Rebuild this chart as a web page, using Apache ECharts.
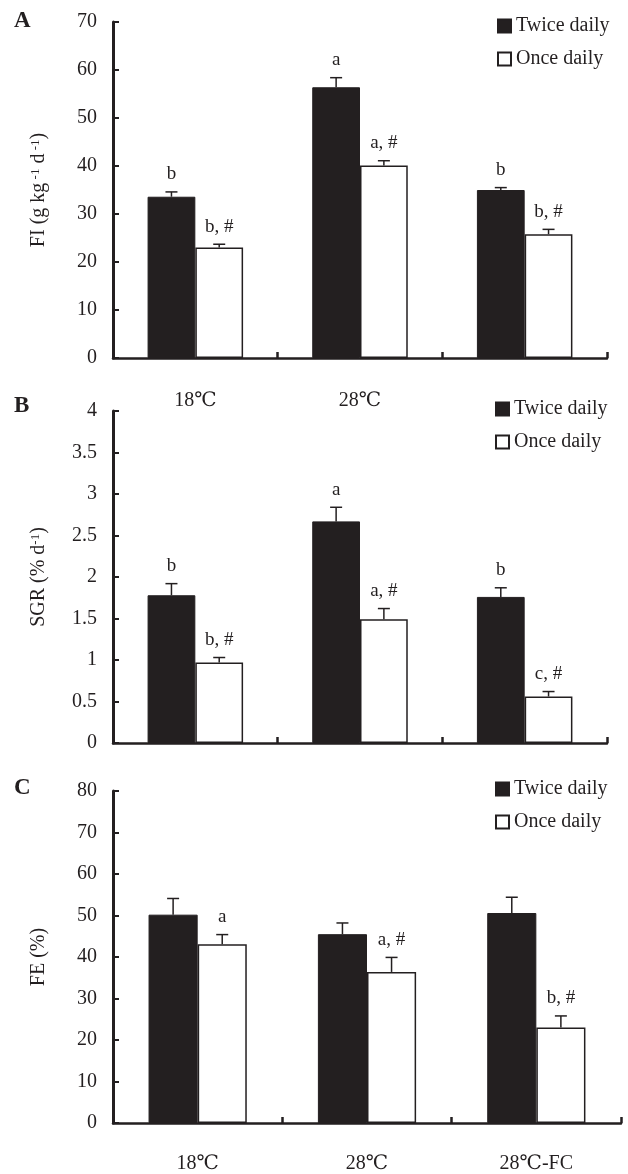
<!DOCTYPE html>
<html>
<head>
<meta charset="utf-8">
<script src="https://cdn.jsdelivr.net/npm/echarts@6/dist/echarts.min.js"></script>
<style>html,body{margin:0;padding:0;background:#fff;}#c{width:628px;height:1174px;}</style>
</head>
<body>
<div id="c"></div>
<script>
// ---- data ----
const categories = ['18℃', '28℃', '28℃-FC'];
const seriesNames = ['Twice daily', 'Once daily'];

const fiTwice = [33.6, 56.4, 35.0];
const fiTwiceSE = [1.0, 2.0, 0.5];
const fiOnce = [23.0, 40.1, 25.8];
const fiOnceSE = [0.7, 1.0, 1.0];
const fiTwiceLabels = ['b', 'a', 'b'];
const fiOnceLabels = ['b, #', 'a, #', 'b, #'];

const sgrTwice = [1.78, 2.67, 1.76];
const sgrTwiceSE = [0.14, 0.17, 0.11];
const sgrOnce = [0.97, 1.49, 0.56];
const sgrOnceSE = [0.06, 0.13, 0.06];
const sgrTwiceLabels = ['b', 'a', 'b'];
const sgrOnceLabels = ['b, #', 'a, #', 'c, #'];

const feTwice = [50.2, 45.5, 50.6];
const feTwiceSE = [3.9, 2.7, 3.8];
const feOnce = [43.1, 36.4, 23.0];
const feOnceSE = [2.3, 3.5, 2.8];
const feTwiceLabels = ['', '', ''];
const feOnceLabels = ['a', 'a, #', 'b, #'];

const fiTicks = {min: 0, max: 70, interval: 10};
const sgrTicks = {min: 0, max: 4, interval: 0.5};
const feTicks = {min: 0, max: 80, interval: 10};

// ---- style ----
const INK = '#231f20';
const FONT = '"Liberation Serif", "DejaVu Serif", "Times New Roman", "Noto Sans CJK SC", serif';
const CAT_GAP = 0.42;

const panels = [
  {twice: fiTwice, twiceSE: fiTwiceSE, once: fiOnce, onceSE: fiOnceSE, tl: fiTwiceLabels, ol: fiOnceLabels,
   ticks: fiTicks, name: 'FI (g kg{sup| -1} d{sup| -1})', showCats: [true, true, false],
   grid: {left: 113, top: 22, width: 494, height: 336}, legendTop: 11, legendLeft: 492, letter: 'A', letterTop: 10, catMargin: 33},
  {twice: sgrTwice, twiceSE: sgrTwiceSE, once: sgrOnce, onceSE: sgrOnceSE, tl: sgrTwiceLabels, ol: sgrOnceLabels,
   ticks: sgrTicks, name: 'SGR (% d{sup|-1})', showCats: [false, false, false],
   grid: {left: 113, top: 411, width: 494, height: 332}, legendTop: 394, legendLeft: 490, letter: 'B', letterTop: 395, catMargin: 32},
  {twice: feTwice, twiceSE: feTwiceSE, once: feOnce, onceSE: feOnceSE, tl: feTwiceLabels, ol: feOnceLabels,
   ticks: feTicks, name: 'FE (%)', showCats: [true, true, true],
   grid: {left: 113, top: 791, width: 508, height: 333}, legendTop: 774, legendLeft: 490, letter: 'C', letterTop: 777, catMargin: 31}
];

const option = {
  backgroundColor: '#fff',
  animation: false,
  grid: [], xAxis: [], yAxis: [], series: [], legend: [], graphic: []
};

panels.forEach((p, i) => {
  option.grid.push(Object.assign({containLabel: false}, p.grid));
  option.xAxis.push({
    type: 'category', gridIndex: i, data: categories,
    axisLine: {lineStyle: {color: INK, width: 2.5}},
    axisTick: {show: true, inside: true, length: 6, alignWithLabel: false, lineStyle: {color: INK, width: 2.5}},
    axisLabel: {
      margin: p.catMargin, fontFamily: FONT, fontSize: 20, color: INK,
      formatter: (v, idx) => p.showCats[idx] ? v : ''
    },
    splitLine: {show: false}
  });
  option.yAxis.push({
    type: 'value', gridIndex: i, min: p.ticks.min, max: p.ticks.max, interval: p.ticks.interval,
    axisLine: {show: true, lineStyle: {color: INK, width: 3}},
    axisTick: {show: true, inside: true, length: 6, lineStyle: {color: INK, width: 2}},
    axisLabel: {margin: 16, fontFamily: FONT, fontSize: 20, color: INK},
    splitLine: {show: false},
    name: p.name, nameLocation: 'middle', nameRotate: 90, nameGap: 64,
    nameTextStyle: {fontFamily: FONT, fontSize: 20, color: INK,
      rich: {sup: {fontFamily: FONT, fontSize: 13, color: INK, verticalAlign: 'top', lineHeight: 20}}}
  });
  option.series.push({
    name: seriesNames[0], type: 'bar', xAxisIndex: i, yAxisIndex: i, data: p.twice,
    barGap: 0, barCategoryGap: (CAT_GAP * 100) + '%',
    itemStyle: {color: INK, borderColor: INK, borderWidth: 1}
  });
  option.series.push({
    name: seriesNames[1], type: 'bar', xAxisIndex: i, yAxisIndex: i, data: p.once,
    barGap: 0, barCategoryGap: (CAT_GAP * 100) + '%',
    itemStyle: {color: '#ffffff', borderColor: INK, borderWidth: 1.5}
  });
  [[p.twice, p.twiceSE, p.tl, -1], [p.once, p.onceSE, p.ol, 1]].forEach(([vals, ses, labs, side]) => {
    option.series.push({
      type: 'custom', xAxisIndex: i, yAxisIndex: i, z: 10, silent: true,
      data: vals.map((v, k) => [k, v, ses[k]]),
      renderItem: (params, api) => {
        const k = api.value(0);
        const base = api.coord([k, api.value(1)]);
        const top = api.coord([k, api.value(1) + api.value(2)]);
        const band = api.size([1, 0])[0];
        const bw = band * (1 - CAT_GAP) / 2;
        const x = base[0] + side * bw / 2;
        const ls = {stroke: INK, lineWidth: 1.5};
        return {
          type: 'group',
          children: [
            {type: 'line', shape: {x1: x, y1: base[1], x2: x, y2: top[1]}, style: ls},
            {type: 'line', shape: {x1: x - 6, y1: top[1], x2: x + 6, y2: top[1]}, style: ls},
            {type: 'text', x: x, y: top[1] - 8,
             style: {text: labs[params.dataIndex], fill: INK, font: '19px ' + FONT, align: 'center', verticalAlign: 'bottom'}}
          ]
        };
      }
    });
  });
  option.legend.push({
    orient: 'vertical', left: p.legendLeft, top: p.legendTop, itemGap: 13,
    itemWidth: 13, itemHeight: 13, icon: 'rect', selectedMode: false,
    data: seriesNames,
    textStyle: {fontFamily: FONT, fontSize: 20, color: INK}
  });
  option.graphic.push({
    type: 'text', left: 14, top: p.letterTop,
    style: {text: p.letter, font: 'bold 23px ' + FONT, fill: INK}
  });
});

const chart = echarts.init(document.getElementById('c'), null, {renderer: 'canvas'});
chart.setOption(option);
</script>
</body>
</html>
